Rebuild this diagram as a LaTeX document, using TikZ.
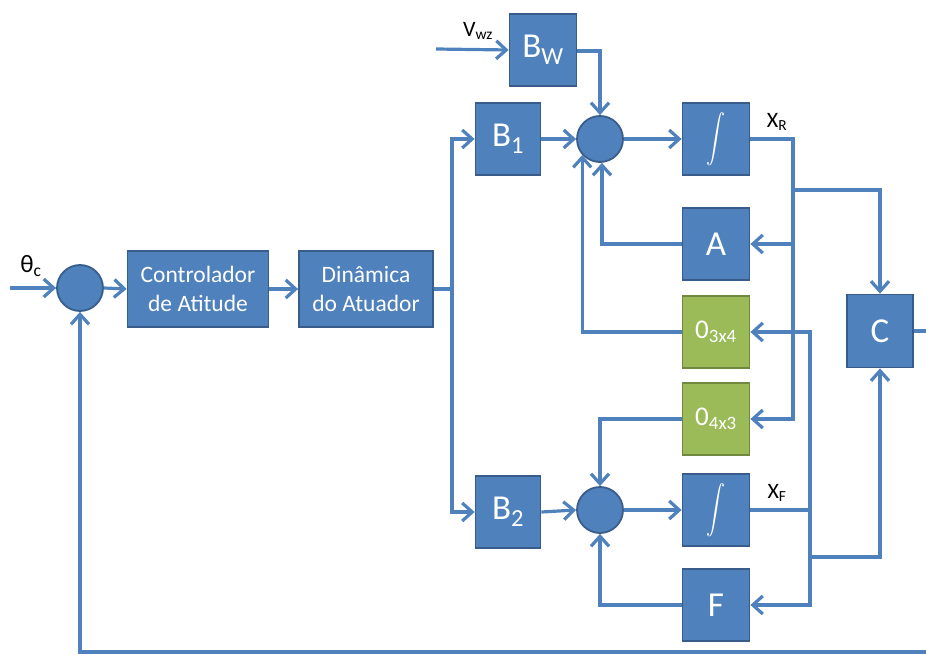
\documentclass[tikz,border=0pt]{standalone}
\usepackage{fontspec}
\usepackage{graphicx}
\setmainfont{Carlito}
\usetikzlibrary{arrows.meta}
\definecolor{boxfill}{HTML}{4F81BD}
\definecolor{boxline}{HTML}{385D8A}
\definecolor{grnfill}{HTML}{9BBB59}
\definecolor{grnline}{HTML}{71893F}
\definecolor{linec}{HTML}{4F81BD}
\newcommand{\bigint}{\scalebox{1.9}[2.4]{$\displaystyle\int$}}
\begin{document}
\begin{tikzpicture}[x=1pt,y=-1pt,
 blk/.style={draw=boxline, fill=boxfill, line width=1.8pt, text=white, inner sep=0pt, minimum width=67pt, minimum height=72pt},
 grn/.style={blk, draw=grnline, fill=grnfill},
 sumc/.style={circle, draw=boxline, fill=boxfill, line width=1.8pt, minimum size=46pt, inner sep=0pt},
 wire/.style={draw=linec, line width=3.2pt},
 arr/.style={wire, -{Straight Barb[length=10pt,width=18pt]}},
 lab/.style={text=black, inner sep=0pt, font=\fontsize{22}{24}\selectfont},
 big/.style={font=\fontsize{35}{36}\selectfont},
 mid/.style={font=\fontsize{23.5}{29}\selectfont, align=center},
 zer/.style={font=\fontsize{27}{28}\selectfont},
]
\useasboundingbox (0,0) rectangle (926,655);

% nodes
\node[sumc] (s1) at (80,288) {};
\node[blk, mid, minimum width=141pt, minimum height=76pt] (ctrl) at (198,289) {Controlador\\de Atitude};
\node[blk, mid, minimum width=134pt, minimum height=76pt] (din) at (366,289) {Dinâmica\\do Atuador};
\node[blk, big, minimum width=65pt] (b1) at (508,139) {B\textsubscript{1}};
\node[blk, big] (bw) at (543,50) {B\textsubscript{W}};
\node[sumc] (s2) at (600,139) {};
\node[blk] (i1) at (716,139) {\bigint};
\node[blk, big] (a) at (716,244) {A};
\node[grn, zer] (o34) at (716,332) {0\textsubscript{3x4}};
\node[grn, zer] (o43) at (716,419) {0\textsubscript{4x3}};
\node[blk, big, minimum width=65pt] (b2) at (508,512) {B\textsubscript{2}};
\node[sumc] (s3) at (600,510) {};
\node[blk] (i2) at (716,510) {\bigint};
\node[blk, big] (f) at (716,605) {F};
\node[blk, big, minimum width=66pt, minimum height=73pt] (c) at (880,331) {C};

% labels
\node[lab] (th) at (31,266) {\fontsize{25}{26}\selectfont θ\textsubscript{c}};
\node[lab] (vw) at (478,31) {V\textsubscript{wz}};
\node[lab] (xr) at (777,122) {X\textsubscript{R}};
\node[lab] (xf) at (777,493) {X\textsubscript{F}};

% coordinates
\coordinate (in1) at (10,288);
\coordinate (vin) at (436,49);
\coordinate (j1) at (452,289);
\coordinate (xrv) at (793,190);
\coordinate (xfv) at (810,510);
\coordinate (xfc) at (810,557);
\coordinate (fbr) at (960,652);

% connectors
\draw[arr] (in1) -- (s1.west);
\draw[arr] (s1.east) -- (ctrl.west);
\draw[arr] (ctrl.east) -- (din.west);
\draw[wire] (din.east) -- (j1);
\draw[arr] (j1) |- (b1.west);
\draw[arr] (j1) |- (b2.west);
\draw[arr] (vin) -- (bw.west);
\draw[arr] ([yshift=-1pt]bw.east) -| (s2.north);
\draw[arr] (b1.east) -- (s2.west);
\draw[arr] (s2.east) -- (i1.west);
\draw[arr] (i1.east) -| (xrv) |- (o43.east);
\draw[arr] (a.east -| xrv) -- (a.east);
\draw[arr] (xrv) -| (c.north);
\draw[arr] (a.west) -| ([xshift=2pt]s2.south);
\draw[arr] (o34.west) -| (s2.222);
\draw[arr] (b2.east) -- (s3.west);
\draw[arr] (s3.east) -- (i2.west);
\draw[wire] (i2.east) -- (xfv);
\draw[arr] (xfv) |- (o34.east);
\draw[arr] (xfv) |- (f.east);
\draw[arr] (xfc) -| (c.south);
\draw[arr] (o43.west) -| (s3.north);
\draw[arr] (f.west) -| (s3.south);
\draw[arr] (c.east) -| (fbr) -| (s1.south);
\end{tikzpicture}
\end{document}
